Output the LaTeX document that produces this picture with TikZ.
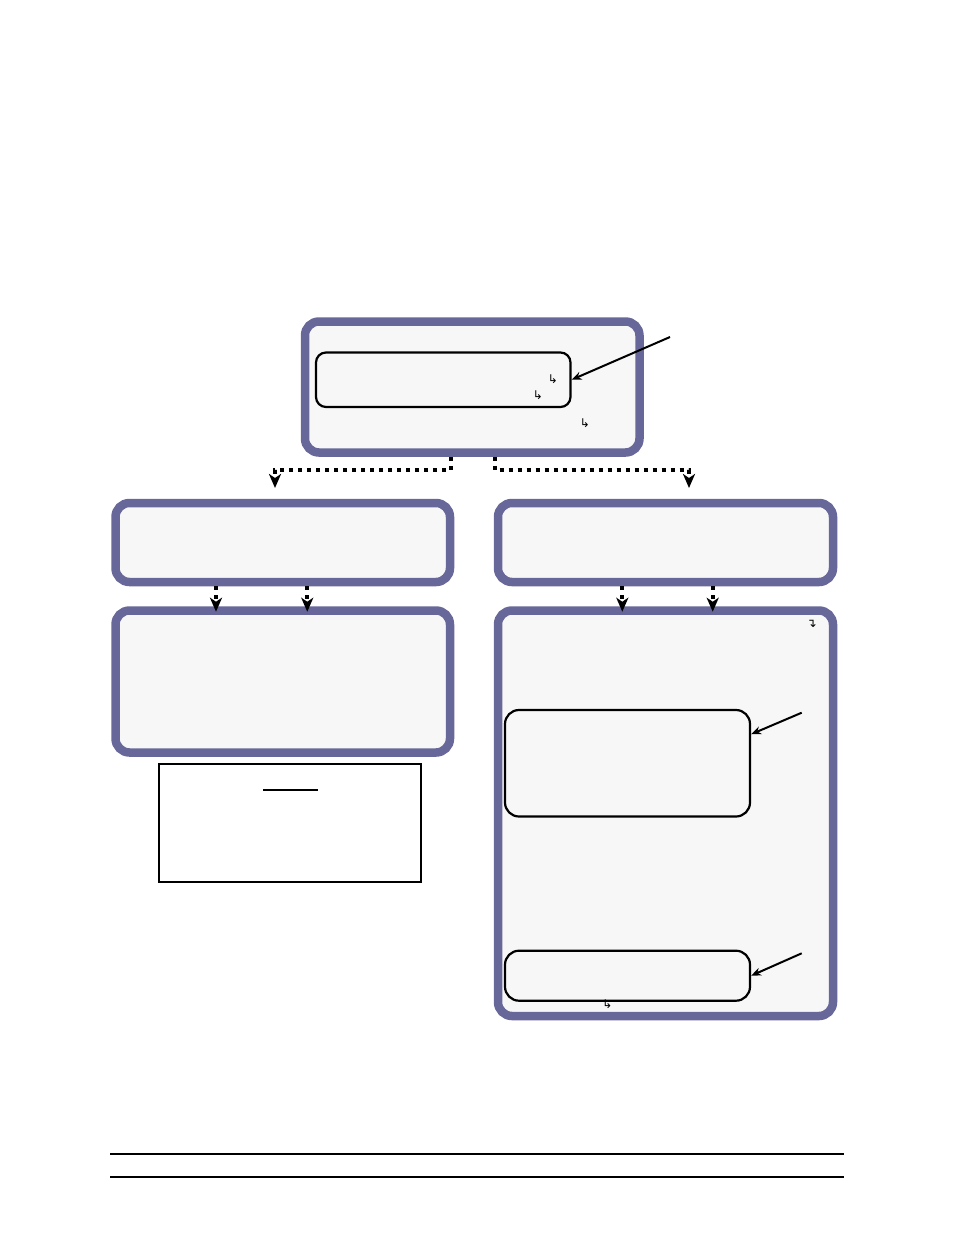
\documentclass[tikz,border=0pt]{standalone}
\usepackage{fontspec}
\newfontfamily\arrowfont{DejaVu Sans}
\usetikzlibrary{arrows.meta}
\definecolor{framepurple}{HTML}{67679A}
\definecolor{panelgrey}{HTML}{F7F7F7}

\begin{document}
\begin{tikzpicture}[x=1pt,y=-1pt,
        panel/.style={draw=framepurple,fill=panelgrey,line width=8.5pt,rounded corners=14pt,inner sep=0pt},
        inset/.style={draw=black,fill=panelgrey,line width=2.2pt,rounded corners=10pt,inner sep=0pt},
        dotlink/.style={line width=4pt,dash pattern=on 4pt off 5pt,-{Stealth[length=14pt,width=12pt,inset=4pt]}},
        pointer/.style={line width=2pt,-{Stealth[length=10pt,width=8pt]}},
        glyph/.style={inner sep=0pt,font=\arrowfont\fontsize{12}{12}\selectfont}]
            \useasboundingbox (0,0) rectangle (954,1235);
            \node[panel,minimum width=334.5pt,minimum height=131pt] (top) at (472.25,387) {};
            \node[inset,minimum width=254.5pt,minimum height=54.5pt] (tin) at (443.25,379.75) {};
            \node[panel,minimum width=334.5pt,minimum height=79pt] (lmid) at (282.75,542.5) {};
            \node[panel,minimum width=335pt,minimum height=79pt] (rmid) at (665.5,542.5) {};
            \node[panel,minimum width=334.5pt,minimum height=142pt] (llow) at (282.75,681.5) {};
            \node[panel,minimum width=335pt,minimum height=405.5pt] (rbig) at (665.5,813.25) {};
            \node[inset,rounded corners=14pt,minimum width=245pt,minimum height=106.5pt] (rin1) at (627.5,763.25) {};
            \node[inset,rounded corners=14pt,minimum width=245pt,minimum height=50pt] (rin2) at (627.5,975.7) {};
            \node[draw,line width=2pt,fill=white,inner sep=0pt,minimum width=262pt,minimum height=118.3pt] (legend) at (290,823.15) {};
            \draw[line width=1.2pt] (263.3,790) -- (317.7,790);
            \node[glyph] (g1) at (553,379.5) {↳};
            \node[glyph] (g2) at (538,395) {↳};
            \node[glyph] (g3) at (585,423.5) {↳};
            \node[glyph] (g4) at (811.7,624.3) {↴};
            \node[glyph] (g5) at (607.3,1004) {↳};
            \coordinate (p1) at (670,337);
            \coordinate (p2) at (801.7,712.7);
            \coordinate (p3) at (801.7,953.3);
            \draw[pointer] (p1) -- (tin.east);
            \draw[pointer] (p2) -- ([yshift=29pt]rin1.east);
            \draw[pointer] (p3) -- (rin2.east);
            \draw[dotlink,shorten >=10.75pt] ([xshift=-21.5pt]top.south) -- ++(0,13.25) -| ([xshift=-7.75pt]lmid.north);
            \draw[dotlink,shorten >=10.75pt] ([xshift=22.5pt]top.south) -- ++(0,13.25) -| ([xshift=23.5pt]rmid.north);
            \draw[dotlink,shorten >=-5.5pt] ([xshift=-66.75pt]lmid.south) -- ([xshift=-66.75pt]llow.north);
            \draw[dotlink,shorten >=-5.5pt] ([xshift=24.5pt]lmid.south) -- ([xshift=24.5pt]llow.north);
            \draw[dotlink,shorten >=-5.5pt] ([xshift=-43.2pt]rmid.south) -- ([xshift=-43.2pt]rbig.north);
            \draw[dotlink,shorten >=-5.5pt] ([xshift=47.2pt]rmid.south) -- ([xshift=47.2pt]rbig.north);
            \draw[line width=2pt] (110,1154) -- (844,1154);
            \draw[line width=2pt] (110,1177) -- (844,1177);
\end{tikzpicture}
\end{document}
